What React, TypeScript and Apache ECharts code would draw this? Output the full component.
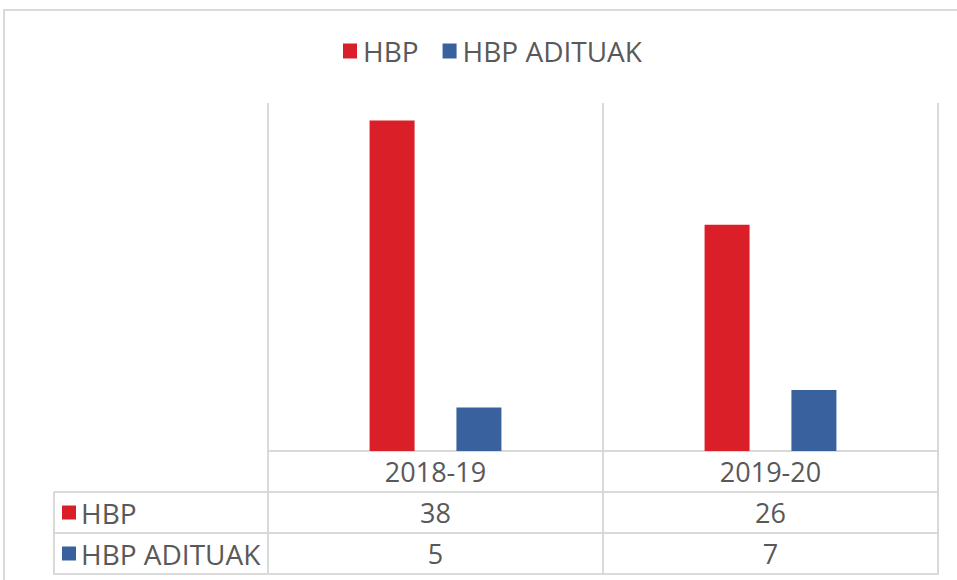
import React, { useEffect, useRef } from "react";
import * as echarts from "echarts";

const categories = ["2018-19", "2019-20"];
const seriesNames = ["HBP", "HBP ADITUAK"];
const hbp = [38, 26];
const hbpAdituak = [5, 7];
const yMax = 40;

const colors = ["#DB1F28", "#38619E"];
const textColor = "#595959";
const lineColor = "#D9D9D9";
const font = "'Open Sans', 'Noto Sans', sans-serif";

const W = 957;
const H = 580;
const gridLeft = 268;
const gridRight = 938;
const gridTop = 103;
const gridBottom = 451;
const rowH = 41;
const tableLeft = 54;

export default function App() {
  const ref = useRef<HTMLDivElement>(null);

  useEffect(() => {
    if (!ref.current) return;
    const chart = echarts.init(ref.current, null, { renderer: "svg" });
    const values = [hbp, hbpAdituak];
    const tableBottom = gridBottom + rowH * 3;

    const graphic: any[] = [
      {
        type: "rect",
        shape: { x: 4, y: 10, width: W + 20, height: H + 20 },
        style: { fill: "none", stroke: lineColor, lineWidth: 2 },
        silent: true,
      },
      {
        type: "line",
        shape: { x1: tableLeft, y1: gridBottom + rowH, x2: gridRight + 1, y2: gridBottom + rowH },
        style: { stroke: lineColor, lineWidth: 2 },
      },
      {
        type: "line",
        shape: { x1: tableLeft, y1: gridBottom + rowH * 2, x2: gridRight + 1, y2: gridBottom + rowH * 2 },
        style: { stroke: lineColor, lineWidth: 2 },
      },
      {
        type: "line",
        shape: { x1: tableLeft - 1, y1: tableBottom, x2: gridRight + 1, y2: tableBottom },
        style: { stroke: lineColor, lineWidth: 2 },
      },
      {
        type: "line",
        shape: { x1: tableLeft, y1: gridBottom + rowH, x2: tableLeft, y2: tableBottom },
        style: { stroke: lineColor, lineWidth: 2 },
      },
    ];
    seriesNames.forEach((name, i) => {
      const cy = gridBottom + rowH * (i + 1) + rowH / 2;
      graphic.push({
        type: "rect",
        shape: { x: 62, y: cy - 7, width: 14, height: 14 },
        style: { fill: colors[i] },
      });
      graphic.push({
        type: "text",
        x: 81,
        y: cy,
        style: {
          text: name,
          fill: textColor,
          font: `28px ${font}`,
          textVerticalAlign: "middle",
          verticalAlign: "middle",
        },
      });
    });

    const labelStyle = {
      fontSize: 27,
      color: textColor,
      fontFamily: font,
      margin: rowH / 2,
      verticalAlign: "middle",
      interval: 0,
    };

    chart.setOption({
      animation: false,
      legend: {
        data: seriesNames,
        left: 338,
        top: 32,
        icon: "rect",
        itemWidth: 14,
        itemHeight: 15,
        itemGap: 24,
        textStyle: { fontSize: 28, color: textColor, fontFamily: font, padding: [0, 0, 0, 1] },
      },
      grid: {
        left: gridLeft,
        right: W - gridRight,
        top: gridTop,
        bottom: H - gridBottom,
        containLabel: false,
      },
      xAxis: [
        {
          type: "category",
          data: categories,
          position: "bottom",
          axisLine: { show: true, lineStyle: { color: lineColor, width: 2 } },
          axisTick: { show: true, interval: 0, length: rowH * 3, lineStyle: { color: lineColor, width: 2 } },
          splitLine: { show: true, interval: 0, lineStyle: { color: lineColor, width: 2 } },
          axisLabel: labelStyle,
        },
        {
          type: "category",
          data: hbp.map(String),
          position: "bottom",
          offset: rowH,
          axisLine: { show: false },
          axisTick: { show: false },
          splitLine: { show: false },
          axisLabel: labelStyle,
        },
        {
          type: "category",
          data: hbpAdituak.map(String),
          position: "bottom",
          offset: rowH * 2,
          axisLine: { show: false },
          axisTick: { show: false },
          splitLine: { show: false },
          axisLabel: labelStyle,
        },
      ],
      yAxis: {
        type: "value",
        min: 0,
        max: yMax,
        show: false,
        splitLine: { show: false },
      },
      series: seriesNames.map((name, i) => ({
        name,
        type: "bar",
        xAxisIndex: 0,
        data: values[i],
        barWidth: 45,
        barGap: "93%",
        itemStyle: { color: colors[i] },
      })),
      graphic,
    });

    return () => chart.dispose();
  }, []);

  return (
    <div
      ref={ref}
      style={{ position: "fixed", left: 0, top: 0, width: W, height: H, background: "#fff" }}
    />
  );
}
